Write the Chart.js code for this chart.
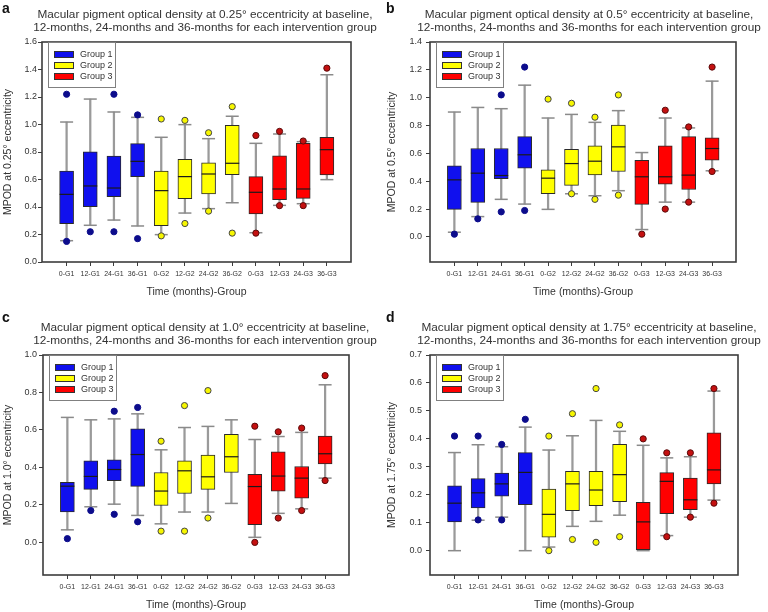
<!DOCTYPE html>
<html>
<head>
<meta charset="utf-8">
<script src="https://cdn.jsdelivr.net/npm/chart.js@4.4.1/dist/chart.umd.min.js"></script>
<style>
  body { margin: 0; background: #fff; }
  #wrap { position: relative; width: 768px; height: 612px; font-family: "Liberation Sans", Arial, sans-serif; }
  .panel { position: absolute; width: 384px; height: 306px; }
  .panel canvas { position: absolute; left: 0; top: 0; }
  .letter { position: absolute; left: 2px; top: 0; font-size: 14px; font-weight: bold; line-height: 16px; color: #111; }
  .title { position: absolute; left: 13px; width: 384px; text-align: center; font-size: 11.8px; line-height: 13.4px; color: #333; white-space: nowrap; }
</style>
</head>
<body>
<div id="wrap">
  <div class="panel" style="left:0;top:0"><canvas id="ca" width="384" height="306"></canvas><div class="letter">a</div><div class="title" id="ta" style="top:8px"></div></div>
  <div class="panel" style="left:384px;top:0"><canvas id="cb" width="384" height="306"></canvas><div class="letter">b</div><div class="title" id="tb" style="top:8px"></div></div>
  <div class="panel" style="left:0;top:306px"><canvas id="cc" width="384" height="306"></canvas><div class="letter" style="top:3px">c</div><div class="title" id="tc" style="top:15px"></div></div>
  <div class="panel" style="left:384px;top:306px"><canvas id="cd" width="384" height="306"></canvas><div class="letter" style="top:3px">d</div><div class="title" id="td" style="top:15px"></div></div>
</div>
<script>
const categories = ['0-G1', '12-G1', '24-G1', '36-G1', '0-G2', '12-G2', '24-G2', '36-G2', '0-G3', '12-G3', '24-G3', '36-G3']
const groups = ['Group 1', 'Group 2', 'Group 3']
const xTitle = 'Time (months)-Group'

// panel a - 0.25 deg
const aLow = [0.155, 0.267, 0.305, 0.262, 0.199, 0.356, 0.388, 0.431, 0.213, 0.412, 0.424, 0.599]
const aQ1 = [0.279, 0.402, 0.475, 0.621, 0.264, 0.461, 0.495, 0.635, 0.349, 0.453, 0.463, 0.633]
const aMed = [0.492, 0.553, 0.538, 0.732, 0.519, 0.621, 0.640, 0.718, 0.507, 0.531, 0.531, 0.817]
const aQ3 = [0.662, 0.802, 0.771, 0.861, 0.662, 0.747, 0.722, 0.994, 0.621, 0.773, 0.863, 0.907]
const aHigh = [1.018, 1.185, 1.091, 1.052, 0.907, 0.999, 0.897, 1.060, 0.863, 0.931, 0.875, 1.362]
const aOut = [[1.22, 0.15], [0.22], [1.22, 0.22], [1.07, 0.17], [1.04, 0.19], [1.03, 0.28], [0.94, 0.37], [1.13, 0.21], [0.92, 0.21], [0.95, 0.41], [0.88, 0.41], [1.41]]
const aTicks = [0, 0.2, 0.4, 0.6, 0.8, 1.0, 1.2, 1.4, 1.6]

// panel b - 0.5 deg
const bLow = [0.034, 0.146, 0.270, 0.236, 0.198, 0.310, 0.296, 0.332, 0.053, 0.250, 0.250, 0.475]
const bQ1 = [0.198, 0.248, 0.418, 0.494, 0.310, 0.370, 0.446, 0.470, 0.234, 0.379, 0.341, 0.551]
const bMed = [0.410, 0.458, 0.441, 0.590, 0.422, 0.527, 0.544, 0.647, 0.432, 0.432, 0.444, 0.635]
const bQ3 = [0.511, 0.635, 0.635, 0.720, 0.482, 0.630, 0.654, 0.804, 0.551, 0.654, 0.720, 0.711]
const bHigh = [0.897, 0.930, 0.921, 1.090, 0.854, 0.880, 0.823, 0.907, 0.606, 0.854, 0.783, 1.119]
const bOut = [[0.02], [0.13], [1.02, 0.18], [1.22, 0.19], [0.99], [0.96, 0.31], [0.86, 0.27], [1.02, 0.30], [0.02], [0.91, 0.20], [0.79, 0.25], [1.22, 0.47]]
const bTicks = [0, 0.2, 0.4, 0.6, 0.8, 1.0, 1.2, 1.4]

// panel c - 1.0 deg
const cLow = [0.067, 0.190, 0.204, 0.144, 0.099, 0.162, 0.162, 0.208, 0.027, 0.155, 0.179, 0.343]
const cQ1 = [0.162, 0.283, 0.329, 0.299, 0.197, 0.261, 0.283, 0.373, 0.094, 0.274, 0.236, 0.419]
const cMed = [0.300, 0.352, 0.389, 0.469, 0.274, 0.382, 0.350, 0.457, 0.298, 0.354, 0.343, 0.473]
const cQ3 = [0.320, 0.435, 0.441, 0.606, 0.373, 0.435, 0.466, 0.576, 0.363, 0.483, 0.405, 0.567]
const cHigh = [0.667, 0.654, 0.659, 0.686, 0.494, 0.613, 0.619, 0.654, 0.549, 0.565, 0.587, 0.841]
const cOut = [[0.02], [0.17], [0.70, 0.15], [0.72, 0.11], [0.54, 0.06], [0.73, 0.06], [0.81, 0.13], [], [0.62, 0.0], [0.59, 0.13], [0.61, 0.17], [0.89, 0.33]]
const cTicks = [0, 0.2, 0.4, 0.6, 0.8, 1.0]

// panel d - 1.75 deg
const dLow = [0.0, 0.109, 0.120, 0.0, 0.013, 0.087, 0.105, 0.127, 0.0, 0.054, 0.120, 0.181]
const dQ1 = [0.103, 0.153, 0.195, 0.165, 0.048, 0.143, 0.161, 0.175, 0.004, 0.132, 0.147, 0.239]
const dMed = [0.170, 0.207, 0.239, 0.280, 0.130, 0.239, 0.217, 0.272, 0.103, 0.248, 0.182, 0.289]
const dQ3 = [0.232, 0.258, 0.278, 0.351, 0.220, 0.284, 0.284, 0.380, 0.173, 0.279, 0.260, 0.422]
const dHigh = [0.351, 0.379, 0.372, 0.442, 0.360, 0.411, 0.466, 0.427, 0.377, 0.332, 0.336, 0.571]
const dOut = [[0.41], [0.41, 0.11], [0.38, 0.11], [0.47], [0.41, 0.0], [0.49, 0.04], [0.58, 0.03], [0.45, 0.05], [0.40], [0.35, 0.05], [0.35, 0.12], [0.58, 0.17]]
const dTicks = [0, 0.1, 0.2, 0.3, 0.4, 0.5, 0.6, 0.7]

const FONT = '"Liberation Sans", Arial, sans-serif'
const boxFill = ['#1010ee', '#ffff00', '#ff0000']
const dotFill = ['#0c0c8c', '#f6f600', '#c41010']
const dotLine = ['#0c0c8c', '#444444', '#5a0a0a']

// frame round the plot + legend box inside top-left corner
const framePlugin = {
  id: 'frameAndLegend',
  afterDraw(chart) {
    const { ctx, chartArea: a } = chart
    ctx.save()
    ctx.strokeStyle = '#3c3c3c'
    ctx.lineWidth = 1.6
    ctx.strokeRect(a.left, a.top, a.right - a.left, a.bottom - a.top)

    const x0 = a.left + 6, y0 = a.top, w = 67, h = 45
    ctx.fillStyle = '#fff'
    ctx.fillRect(x0, y0 + 1, w, h - 1)
    ctx.strokeStyle = '#808080'
    ctx.lineWidth = 1
    ctx.strokeRect(x0 + 0.5, y0 + 0.5, w, h)
    ctx.font = '9px ' + FONT
    ctx.textBaseline = 'middle'
    chart.data.datasets.filter((d) => d.inLegend).forEach((d, k) => {
      const cy = y0 + 12 + k * 11
      ctx.fillStyle = d.backgroundColor
      ctx.fillRect(x0 + 6, cy - 3, 20, 7)
      ctx.strokeStyle = '#333'
      ctx.strokeRect(x0 + 6.5, cy - 2.5, 19, 6)
      ctx.fillStyle = '#333'
      ctx.fillText(d.label, x0 + 32, cy + 0.5)
    })
    ctx.restore()
  }
}

function boxChart(canvasId, p) {
  const datasets = []
  groups.forEach((g, k) => {
    const idx = categories.map((c, i) => i).filter((i) => Math.floor(i / 4) === k)
    datasets.push({
      type: 'bar',
      label: g,
      inLegend: true,
      data: idx.map((i) => ({ x: i, y: [p.q1[i], p.q3[i]] })),
      backgroundColor: boxFill[k],
      borderColor: '#2a2a2a',
      borderWidth: 1,
      borderSkipped: false,
      barThickness: 14,
      grouped: false,
      order: 3
    })
    datasets.push({
      type: 'scatter',
      data: idx.flatMap((i) => p.out[i].map((v) => ({ x: i, y: v }))),
      pointRadius: 3.1,
      backgroundColor: dotFill[k],
      borderColor: dotLine[k],
      borderWidth: 1,
      order: 1
    })
  })
  // whisker stems
  datasets.push({
    type: 'bar',
    data: categories.map((c, i) => ({ x: i, y: [p.low[i], p.high[i]] })),
    backgroundColor: '#9a9a9a',
    borderWidth: 0,
    barThickness: 1.6,
    grouped: false,
    order: 6
  })
  // whisker caps
  datasets.push({
    type: 'scatter',
    data: categories.flatMap((c, i) => [{ x: i, y: p.low[i] }, { x: i, y: p.high[i] }]),
    pointStyle: 'line',
    pointRadius: 6.5,
    borderColor: '#8a8a8a',
    borderWidth: 1.5,
    order: 5
  })
  // medians
  datasets.push({
    type: 'scatter',
    data: categories.map((c, i) => ({ x: i, y: p.med[i] })),
    pointStyle: 'line',
    pointRadius: 7,
    borderColor: '#1a1a1a',
    borderWidth: 1.2,
    order: 2
  })

  return new Chart(document.getElementById(canvasId), {
    type: 'bar',
    data: { datasets },
    plugins: [framePlugin],
    options: {
      responsive: false,
      animation: false,
      events: [],
      devicePixelRatio: 1,
      layout: { padding: { left: 0, top: p.top, right: 384 - p.right, bottom: 0 } },
      plugins: { legend: { display: false }, tooltip: { enabled: false } },
      scales: {
        x: {
          type: 'linear',
          min: -1.04,
          max: 12.02,
          offset: false,
          afterBuildTicks: (s) => { s.ticks = categories.map((c, i) => ({ value: i })) },
          afterFit: (s) => { s.height = 306 - p.bottom },
          ticks: {
            autoSkip: false,
            maxRotation: 0,
            padding: 4,
            color: '#333',
            font: { family: FONT, size: 7 },
            callback: (v) => categories[v]
          },
          grid: { drawOnChartArea: false, drawTicks: true, tickLength: 4, color: '#3c3c3c', offset: false },
          border: { display: false },
          title: { display: true, text: xTitle, color: '#333', font: { family: FONT, size: 10.5 }, padding: { top: 0, bottom: p.xTitlePad } }
        },
        y: {
          min: p.yMin,
          max: p.yMax,
          afterBuildTicks: (s) => { s.ticks = p.ticks.map((v) => ({ value: v })) },
          afterFit: (s) => { s.width = p.left },
          ticks: {
            padding: p.tickPad,
            color: '#333',
            font: { family: FONT, size: 9 },
            callback: (v) => v.toFixed(1)
          },
          grid: { drawOnChartArea: false, drawTicks: true, tickLength: 4, color: '#3c3c3c' },
          border: { display: false },
          title: { display: true, text: p.yTitle, color: '#333', font: { family: FONT, size: 10.5 }, padding: { top: 2, bottom: 0 } }
        }
      }
    }
  })
}

function setTitle(id, ecc) {
  document.getElementById(id).innerHTML =
    'Macular pigment optical density at ' + ecc + '° eccentricity at baseline,<br>12-months, 24-months and 36-months for each intervention group'
}
setTitle('ta', '0.25')
setTitle('tb', '0.5')
setTitle('tc', '1.0')
setTitle('td', '1.75')

boxChart('ca', { low: aLow, q1: aQ1, med: aMed, q3: aQ3, high: aHigh, out: aOut, ticks: aTicks,
  yMin: 0, yMax: 1.6, yTitle: 'MPOD at 0.25° eccentricity',
  left: 42, right: 351, top: 42, bottom: 262, tickPad: 1, xTitlePad: 8 })
boxChart('cb', { low: bLow, q1: bQ1, med: bMed, q3: bQ3, high: bHigh, out: bOut, ticks: bTicks,
  yMin: -0.18, yMax: 1.4, yTitle: 'MPOD at 0.5° eccentricity',
  left: 46, right: 352, top: 42, bottom: 262, tickPad: 4, xTitlePad: 8 })
boxChart('cc', { low: cLow, q1: cQ1, med: cMed, q3: cQ3, high: cHigh, out: cOut, ticks: cTicks,
  yMin: -0.174, yMax: 1.0, yTitle: 'MPOD at 1.0° eccentricity',
  left: 43, right: 349, top: 49, bottom: 269, tickPad: 2, xTitlePad: 1 })
boxChart('cd', { low: dLow, q1: dQ1, med: dMed, q3: dQ3, high: dHigh, out: dOut, ticks: dTicks,
  yMin: -0.087, yMax: 0.7, yTitle: 'MPOD at 1.75° eccentricity',
  left: 46, right: 354, top: 49, bottom: 269, tickPad: 4, xTitlePad: 1 })
</script>
</body>
</html>
